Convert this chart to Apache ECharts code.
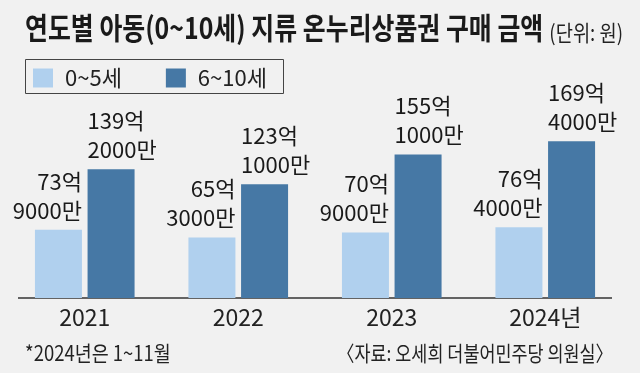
<!DOCTYPE html>
<html>
<head>
<meta charset="utf-8">
<script src="https://cdn.jsdelivr.net/npm/echarts@6/dist/echarts.min.js"></script>
<style>
html,body{margin:0;padding:0;background:#f1f1f1;}
#chart{width:640px;height:373px;}
</style>
</head>
<body>
<div id="chart"></div>
<script>
var categories = ['2021', '2022', '2023', '2024년'];
var seriesNames = ['0~5세', '6~10세'];
// 단위: 억 원
var age0to5 = [73.9, 65.3, 70.9, 76.4];
var age6to10 = [139.2, 123.1, 155.1, 169.4];
var titleText = '연도별 아동(0~10세) 지류 온누리상품권 구매 금액';
var unitText = '(단위: 원)';
var noteText = '*2024년은 1~11월';
var sourceText = '〈자료: 오세희 더불어민주당 의원실〉';

var CJK = "'Noto Sans CJK KR',sans-serif";

function fmt(p) {
  var v = p.value;
  var eok = Math.floor(v + 1e-9);
  var man = Math.round((v - eok) * 10) * 1000;
  return eok + '억\n' + man + '만';
}

var chart = echarts.init(document.getElementById('chart'), null, {renderer: 'canvas'});
chart.setOption({
  backgroundColor: '#f1f1f1',
  animation: false,
  grid: {left: 8, right: 18, top: 113, bottom: 75},
  legend: {
    left: 33, top: 67,
    padding: 0,
    itemWidth: 20, itemHeight: 19,
    itemGap: 44,
    icon: 'rect',
    textStyle: {fontSize: 22, fontFamily: CJK, color: '#222', padding: [0, 0, 0, 7]},
    data: seriesNames
  },
  xAxis: {
    type: 'category',
    data: categories,
    axisLine: {show: false},
    axisTick: {show: false},
    axisLabel: {fontSize: 23, fontFamily: CJK, color: '#222', margin: 8}
  },
  yAxis: {type: 'value', min: 0, max: 200, show: false, splitLine: {show: false}},
  series: [
    {
      name: seriesNames[0], type: 'bar', data: age0to5,
      barWidth: 47, barGap: '12%',
      itemStyle: {color: '#b0d0ee'},
      label: {
        show: true, position: ['100%', -5], align: 'right', verticalAlign: 'bottom',
        fontSize: 22, lineHeight: 29, fontFamily: CJK, color: '#1a1a1a',
        formatter: fmt
      }
    },
    {
      name: seriesNames[1], type: 'bar', data: age6to10,
      barWidth: 47, barGap: '12%',
      itemStyle: {color: '#4678a5'},
      label: {
        show: true, position: [0, -5], align: 'left', verticalAlign: 'bottom',
        fontSize: 22, lineHeight: 29, fontFamily: CJK, color: '#1a1a1a',
        formatter: fmt
      }
    }
  ],
  graphic: [
    {type: 'text', x: 25, y: 13, scaleX: 0.83, style: {text: titleText, font: "bold 30px " + CJK, fill: '#1a1a1a', verticalAlign: 'top'}},
    {type: 'text', x: 623, y: 22, scaleX: 0.85, style: {text: unitText, font: "22px " + CJK, fill: '#222', align: 'right', verticalAlign: 'top'}},
    {type: 'rect', shape: {x: 25.5, y: 59.5, width: 258, height: 34}, style: {fill: 'none', stroke: '#444', lineWidth: 1}},
    {type: 'line', shape: {x1: 18, y1: 298, x2: 612, y2: 298}, style: {stroke: '#333', lineWidth: 1.5}},
    {type: 'text', x: 25, y: 343, scaleX: 0.88, style: {text: noteText, font: "21px " + CJK, fill: '#222', verticalAlign: 'top'}},
    {type: 'text', x: 613, y: 343, scaleX: 0.83, style: {text: sourceText, font: "21px " + CJK, fill: '#222', align: 'right', verticalAlign: 'top'}}
  ]
});
</script>
</body>
</html>
